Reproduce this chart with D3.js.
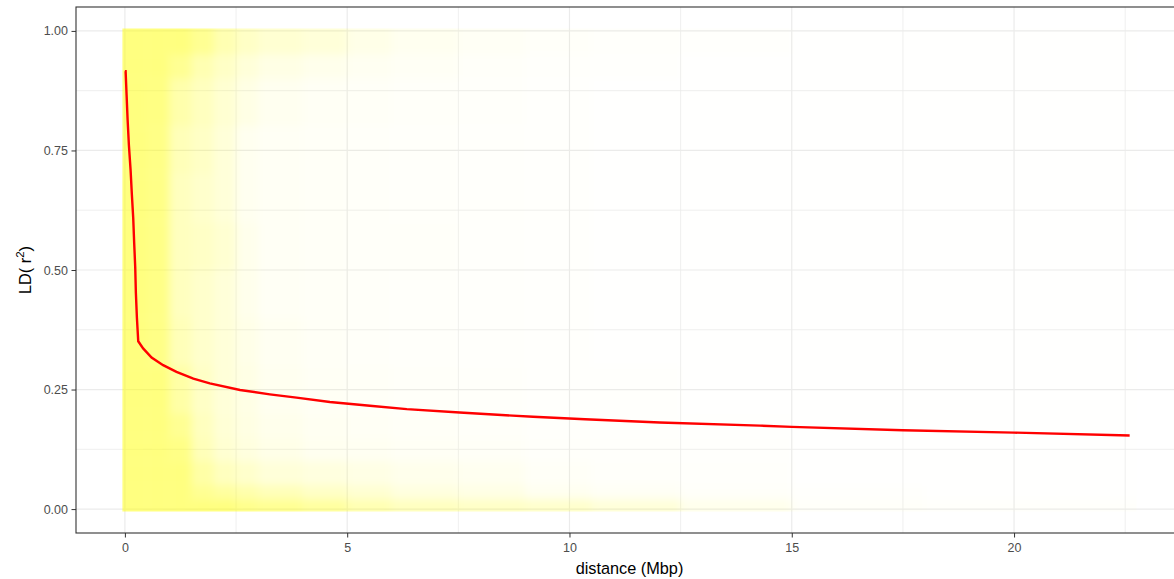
<!DOCTYPE html>
<html>
<head>
<meta charset="utf-8">
<script src="https://cdn.jsdelivr.net/npm/d3@7"></script>
<style>
    body { margin: 0; background: #fff; }
    text { font-family: "Liberation Sans", Arial, sans-serif; }
    .tick text { fill: #4d4d4d; font-size: 12.5px; }
    .tick line { stroke: #333; }
    .axis path { display: none; }
    .grid line { stroke: #ebebeb; }
</style>
</head>
<body>
<script>
// fitted decay curve (distance in Mbp, r^2)
const curveDist = [0.0, 0.016, 0.038, 0.061, 0.09, 0.128, 0.157, 0.187, 0.209, 0.232, 0.247, 0.27, 0.3,
    0.41, 0.6, 0.86, 1.16, 1.54, 1.91, 2.59, 3.26, 3.86, 4.61, 5.51, 6.34, 7.53, 9.18, 10.35, 12.03,
    14.28, 15.0, 17.5, 20.0, 22.6];
const curveR2 = [0.916, 0.916, 0.866, 0.814, 0.761, 0.709, 0.657, 0.609, 0.556, 0.506, 0.452, 0.40, 0.351,
    0.336, 0.317, 0.301, 0.287, 0.273, 0.263, 0.249, 0.240, 0.233, 0.224, 0.216, 0.209, 0.202, 0.193,
    0.188, 0.181, 0.1745, 0.172, 0.165, 0.160, 0.154];

// scatter of pairwise r^2, read as a density grid (1 = fully covered)
const distBins = [0, 0.5, 1.0, 1.5, 2.0, 2.5, 3.0, 4.0, 5.0, 6.0, 7.5, 9.0, 10.5, 12.5, 15, 18, 22.7];
const ldBins = [0, 0.02, 0.05, 0.1, 0.15, 0.2, 0.3, 0.4, 0.5, 0.6, 0.7, 0.8, 0.9, 0.95, 1.0];
const density = [
    [1, 1, 1, 1, 1, 0.9, 0.85, 0.75, 0.6, 0.5, 0.45, 0.4, 0.3, 0.15, 0.05, 0.03],
    [1, 1, 1, 0.85, 0.75, 0.65, 0.55, 0.45, 0.35, 0.25, 0.2, 0.12, 0.08, 0.05, 0.02, 0.01],
    [1, 1, 1, 0.7, 0.5, 0.4, 0.3, 0.25, 0.2, 0.15, 0.12, 0.06, 0.04, 0.03, 0.01, 0.01],
    [1, 1, 0.95, 0.55, 0.35, 0.25, 0.18, 0.12, 0.1, 0.08, 0.06, 0.04, 0.03, 0.02, 0.01, 0.01],
    [1, 1, 0.85, 0.5, 0.32, 0.22, 0.15, 0.1, 0.08, 0.06, 0.05, 0.03, 0.02, 0.015, 0.01, 0.01],
    [1, 1, 0.7, 0.45, 0.3, 0.2, 0.12, 0.08, 0.06, 0.05, 0.04, 0.02, 0.02, 0.01, 0.01, 0.005],
    [1, 0.95, 0.55, 0.4, 0.3, 0.18, 0.1, 0.07, 0.05, 0.04, 0.03, 0.02, 0.01, 0.01, 0.005, 0.005],
    [1, 0.95, 0.5, 0.4, 0.3, 0.15, 0.08, 0.06, 0.05, 0.04, 0.03, 0.02, 0.01, 0.01, 0.005, 0.005],
    [1, 0.95, 0.5, 0.45, 0.35, 0.15, 0.08, 0.06, 0.05, 0.05, 0.03, 0.02, 0.01, 0.01, 0.005, 0.005],
    [1, 0.95, 0.5, 0.4, 0.3, 0.12, 0.08, 0.06, 0.05, 0.04, 0.03, 0.02, 0.01, 0.01, 0.005, 0.005],
    [1, 0.95, 0.55, 0.45, 0.3, 0.12, 0.08, 0.06, 0.05, 0.04, 0.03, 0.02, 0.01, 0.01, 0.005, 0.005],
    [1, 0.97, 0.65, 0.5, 0.35, 0.2, 0.12, 0.08, 0.06, 0.05, 0.04, 0.02, 0.01, 0.01, 0.005, 0.005],
    [1, 1, 0.85, 0.6, 0.45, 0.3, 0.2, 0.15, 0.1, 0.08, 0.05, 0.03, 0.02, 0.01, 0.005, 0.005],
    [1, 1, 1, 0.85, 0.6, 0.45, 0.35, 0.3, 0.18, 0.12, 0.08, 0.05, 0.03, 0.02, 0.01, 0.005]
];

const xMajor = [0, 5, 10, 15, 20];
const xMinor = [2.5, 7.5, 12.5, 17.5, 22.5];
const yMajor = [0, 0.25, 0.5, 0.75, 1.0];
const yMinor = [0.125, 0.375, 0.625, 0.875];

const W = 1174, H = 579;
const pLeft = 76, pRight = 1183, pTop = 7, pBottom = 533;

const svg = d3.select("body").append("svg")
    .attr("width", W).attr("height", H);
svg.append("rect").attr("width", W).attr("height", H).attr("fill", "#fff");

const x = d3.scaleLinear().domain([-1.10, 23.80]).range([pLeft, pRight]);
const y = d3.scaleLinear().domain([-0.05, 1.05]).range([pBottom, pTop]);

// grid
const grid = svg.append("g").attr("class", "grid");
grid.selectAll(".xmin").data(xMinor).join("line").attr("class", "xmin")
    .attr("x1", d => x(d)).attr("x2", d => x(d)).attr("y1", pTop).attr("y2", pBottom)
    .attr("stroke-width", 0.8);
grid.selectAll(".ymin").data(yMinor).join("line").attr("class", "ymin")
    .attr("x1", pLeft).attr("x2", pRight).attr("y1", d => y(d)).attr("y2", d => y(d))
    .attr("stroke-width", 0.8);
grid.selectAll(".xmaj").data(xMajor).join("line").attr("class", "xmaj")
    .attr("x1", d => x(d)).attr("x2", d => x(d)).attr("y1", pTop).attr("y2", pBottom)
    .attr("stroke-width", 1.2);
grid.selectAll(".ymaj").data(yMajor).join("line").attr("class", "ymaj")
    .attr("x1", pLeft).attr("x2", pRight).attr("y1", d => y(d)).attr("y2", d => y(d))
    .attr("stroke-width", 1.2);

// points layer as blurred density cells, clipped to the data extent
const r = 2.5;
const defs = svg.append("defs");
defs.append("clipPath").attr("id", "dataClip").append("rect")
    .attr("x", x(0) - r).attr("y", y(1) - r)
    .attr("width", x(d3.max(distBins)) - x(0) + 2 * r)
    .attr("height", y(0) - y(1) + 2 * r);
defs.append("filter").attr("id", "soft")
    .attr("filterUnits", "userSpaceOnUse")
    .attr("x", pLeft - 20).attr("y", pTop - 20).attr("width", W).attr("height", H)
    .append("feGaussianBlur").attr("stdDeviation", 4);

const cells = [];
density.forEach((row, i) => row.forEach((v, j) => cells.push({ i, j, v })));
const nx = distBins.length - 2, ny = ldBins.length - 2;

svg.append("g").attr("clip-path", "url(#dataClip)")
    .append("g").attr("filter", "url(#soft)")
    .selectAll("rect").data(cells).join("rect")
    .attr("x", d => x(distBins[d.j]) - (d.j === 0 ? 12 : 0))
    .attr("width", d => x(distBins[d.j + 1]) - x(distBins[d.j]) + (d.j === 0 ? 12 : 0) + (d.j === nx ? 12 : 0))
    .attr("y", d => y(ldBins[d.i + 1]) - (d.i === ny ? 12 : 0))
    .attr("height", d => y(ldBins[d.i]) - y(ldBins[d.i + 1]) + (d.i === 0 ? 12 : 0) + (d.i === ny ? 12 : 0))
    .attr("fill", "#ffff00")
    .attr("fill-opacity", d => d.v * 0.5);

// decay curve
const line = d3.line().x(d => x(d[0])).y(d => y(d[1]));
svg.append("path")
    .attr("d", line(d3.zip(curveDist, curveR2)))
    .attr("fill", "none").attr("stroke", "#ff0000").attr("stroke-width", 2.4);

// panel border
svg.append("rect")
    .attr("x", pLeft).attr("y", pTop).attr("width", pRight - pLeft).attr("height", pBottom - pTop)
    .attr("fill", "none").attr("stroke", "#333").attr("stroke-width", 1.1);

// axes
svg.append("g").attr("class", "axis")
    .attr("transform", "translate(0," + pBottom + ")")
    .call(d3.axisBottom(x).tickValues(xMajor).tickFormat(d3.format("d")).tickSize(4.5).tickPadding(5.5));
svg.append("g").attr("class", "axis")
    .attr("transform", "translate(" + pLeft + ",0)")
    .call(d3.axisLeft(y).tickValues(yMajor).tickFormat(d3.format(".2f")).tickSize(4.5).tickPadding(3.5));

// titles
svg.append("text")
    .attr("x", (pLeft + pRight) / 2).attr("y", 574)
    .attr("text-anchor", "middle").attr("font-size", 16.3).attr("fill", "#000")
    .text("distance (Mbp)");

const yt = svg.append("text")
    .attr("transform", "translate(31," + ((pTop + pBottom) / 2) + ") rotate(-90)")
    .attr("text-anchor", "middle").attr("font-size", 16.3).attr("fill", "#000");
yt.append("tspan").text("LD( r");
yt.append("tspan").attr("dy", -7).attr("font-size", 11.5).text("2");
yt.append("tspan").attr("dy", 7).text(")");
</script>
</body>
</html>
